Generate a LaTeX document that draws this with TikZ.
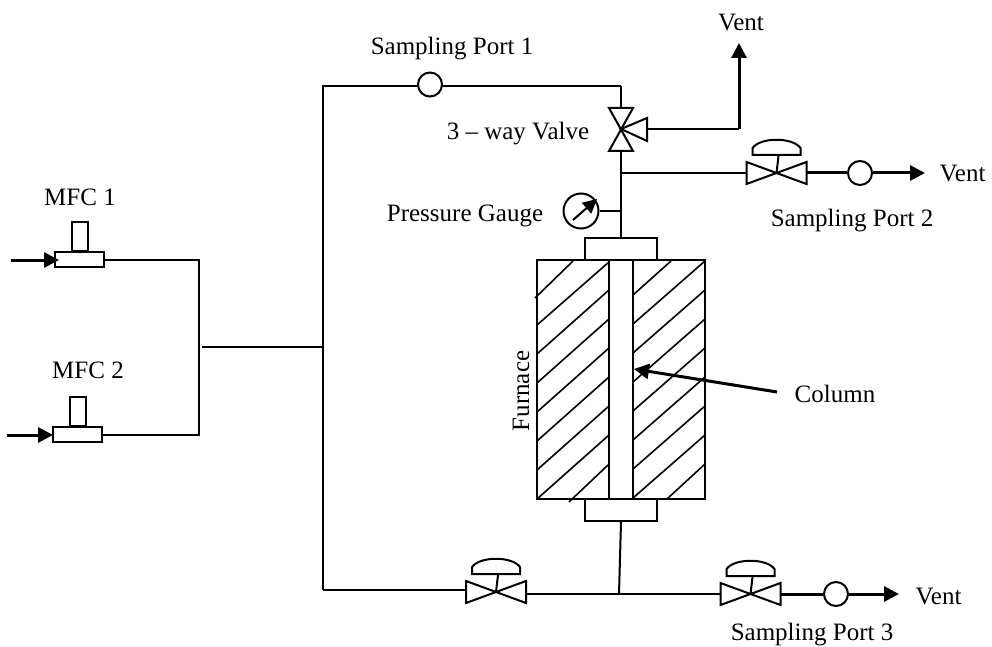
\documentclass[tikz,border=0pt]{standalone}
\usepackage{fontspec}
\setmainfont{Liberation Serif}
\usetikzlibrary{arrows.meta}
\tikzset{
    pipe/.style={line width=2pt},
    thickpipe/.style={line width=3pt},
    tipped/.style={thickpipe,-{Triangle[length=15pt,width=15pt]}},
    hatchline/.style={line width=1.6pt},
    lab/.style={font=\fontsize{25}{30}\selectfont,inner sep=0pt},
    portcircle/.style={draw,pipe,circle,fill=white,minimum size=24pt,inner sep=0pt},
    box/.style={draw,pipe,rectangle,fill=white,inner sep=0pt},
    gatevalve/.pic={
        \draw[pipe,fill=white] (-30,-11) -- (30,11) -- (30,-11) -- (-30,11) -- cycle;
        \draw[pipe] (0,0) -- (2,-17);
        \draw[pipe] (-24,-18) -- (-24,-25) .. controls (-16,-36) and (16,-36) .. (24,-25) -- (24,-18) -- cycle;
        \coordinate (-l) at (-30,0);
        \coordinate (-r) at (30,0);
    }
}
\begin{document}
\begin{tikzpicture}[x=1pt,y=-1pt]
    \useasboundingbox (0,0) rectangle (992,647);

    % Main lines
    \coordinate (jtop) at (323,86);
    \coordinate (jmid) at (323,347);
    \coordinate (jbot) at (323,590);
    \coordinate (jleft) at (202,347);
    \coordinate (elbow) at (621,86);
    \draw[pipe] (elbow) -- (jtop) -- (jbot);
    \draw[pipe] (jleft) -- (jmid);

    % MFCs
    \foreach \id/\x/\y/\sx/\tail/\lx/\ly/\val in {
        1/79.5/259.5/80/11/80/197/MFC 1,
        2/77.5/434.5/77.5/7/88/370/MFC 2
        } {
        \node[box,minimum width=49pt,minimum height=15pt] (mfc\id) at (\x,\y) {};
        \node[box,minimum width=16pt,minimum height=29pt,anchor=south] (stem\id) at (\sx,\y-7.5) {};
        \coordinate (in\id) at (\tail,\y+0.5);
        \node[lab] (mfclab\id) at (\lx,\ly) {\val};
    }
    \coordinate (mfctip1) at (59,260);
    \coordinate (mfctip2) at (53,435);
    \draw[tipped] (in1) -- (mfctip1);
    \draw[tipped] (in2) -- (mfctip2);
    \coordinate (bus1) at (199,259.5);
    \coordinate (bus2) at (199,434.5);
    \draw[pipe] (mfc1.east) -- (bus1) -- (bus2) -- (mfc2.east);

    % Sampling port 1 and 3-way valve
    \node[portcircle] (port1) at (430,84.5) {};
    \node[lab] (portlab1) at (452,49) {Sampling Port 1};
    \coordinate (cv) at (621,129);
    \coordinate (cvt) at (621,108);
    \coordinate (cvb) at (621,151);
    \coordinate (cvr) at (647,129);
    \coordinate (ventbend) at (739,129);
    \coordinate (venttip) at (739,43);
    \draw[pipe] (cvt) -- (elbow);
    \draw[pipe] (609,108) -- (633,108) -- (609,151) -- (633,151) -- cycle;
    \draw[pipe] (cv) -- (647,118) -- (647,141) -- cycle;
    \draw[pipe] (cvr) -- (ventbend);
    \draw[tipped] (ventbend) -- (venttip);
    \node[lab] (ventlab1) at (741,23) {Vent};
    \node[lab] (cvlab) at (518,134) {3 -- way Valve};

    % Furnace
    \node[box,minimum width=168pt,minimum height=239pt] (furnace) at (621,379.5) {};
    \foreach \xa/\ya/\xb/\yb in {
        535/298/573/261, 537/325/609/262, 537/354/609/290, 537/383/609/319,
        537/412/609/348, 537/441/609/377, 537/470/609/406, 537/499/609/435,
        569/502/608/465,
        633/295/671/261, 633/324/705/261, 633/353/705/290, 633/382/705/319,
        633/411/705/348, 633/440/705/377, 633/469/705/406, 633/498/705/435,
        667/499/705/464
        } {
        \draw[hatchline] (\xa,\ya) -- (\xb,\yb);
    }
    \node[box,minimum width=24pt,minimum height=239pt] (column) at (621,379.5) {};
    \node[box,minimum width=72pt,minimum height=22pt] (captop) at (621,249) {};
    \node[box,minimum width=72pt,minimum height=22pt] (capbot) at (621,510) {};
    \node[lab,rotate=90] (furnacelab) at (521,391) {Furnace};
    \node[lab] (columnlab) at (835,394) {Column};
    \coordinate (coltail) at (777,392);
    \coordinate (coltip) at (634,369);
    \draw[tipped] (coltail) -- (coltip);

    % Upper branch
    \draw[pipe] (cvb) -- (captop.north);
    \node[portcircle,minimum size=35pt] (gauge) at (581,211) {};
    \coordinate (gaugejoin) at (621,211);
    \coordinate (gaugetail) at (573,220);
    \coordinate (gaugetip) at (597,199);
    \draw[pipe] (gauge.east) -- (gaugejoin);
    \draw[pipe,-{Triangle[length=14pt,width=14pt]}] (gaugetail) -- (gaugetip);
    \node[lab] (gaugelab) at (465,216) {Pressure Gauge};
    \coordinate (branch2) at (621,173);
    \pic (valve2) at (776.5,173) {gatevalve};
    \draw[pipe] (branch2) -- (valve2-l);
    \node[portcircle] (port2) at (860,173) {};
    \coordinate (venttip2) at (925,173);
    \draw[thickpipe] (valve2-r) -- (port2);
    \draw[tipped] (port2) -- (venttip2);
    \node[lab] (ventlab2) at (962.5,174) {Vent};
    \node[lab] (portlab2) at (852,221) {Sampling Port 2};

    % Lower branch
    \pic (valve1) at (496,592) {gatevalve};
    \pic (valve3) at (750.5,594) {gatevalve};
    \coordinate (branch3) at (619,594);
    \draw[pipe] (jbot) -- (jbot -| valve1-l);
    \draw[pipe] (valve1-r |- branch3) -- (branch3) -- (valve3-l);
    \draw[pipe] (capbot.south) -- (branch3);
    \node[portcircle] (port3) at (836,594) {};
    \coordinate (venttip3) at (899,594);
    \draw[thickpipe] (valve3-r) -- (port3);
    \draw[tipped] (port3) -- (venttip3);
    \node[lab] (ventlab3) at (938.5,596) {Vent};
    \node[lab] (portlab3) at (812,635) {Sampling Port 3};
\end{tikzpicture}
\end{document}
